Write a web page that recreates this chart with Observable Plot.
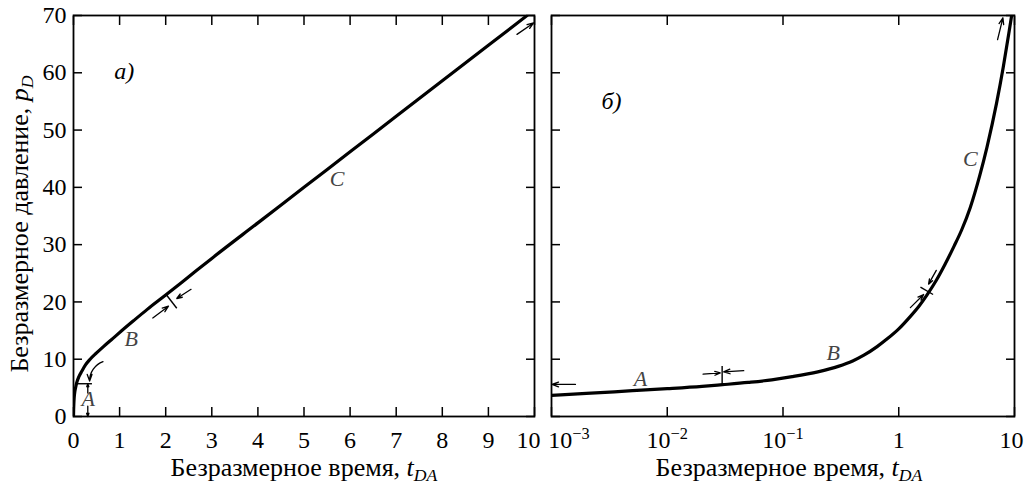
<!DOCTYPE html>
<html><head><meta charset="utf-8">
<script src="https://cdn.jsdelivr.net/npm/d3@7"></script>
<script src="https://cdn.jsdelivr.net/npm/@observablehq/plot@0.6"></script>
<style>
body{margin:0;background:#fff;}
#wrap{position:relative;width:1024px;height:486px;overflow:hidden;background:#fff;}
#wrap svg{position:absolute;top:0;}
</style></head><body><div id="wrap"></div>
<script>
// ---- data ----
// Panel а) linear time axis
const linT = [0, 0.003, 0.008, 0.015, 0.03, 0.05, 0.07, 0.12, 0.18, 0.26, 0.36, 0.5, 0.65, 0.85, 1.05, 1.3, 1.6, 2.0, 2.5, 3, 4, 5, 6, 7, 8, 9, 9.84];
const linP = [0, 1.2, 2.3, 3.3, 4.4, 5.2, 5.9, 7.0, 7.9, 9.0, 10.0, 11.1, 12.2, 13.6, 15.0, 16.7, 18.7, 21.2, 24.4, 27.6, 33.8, 40.0, 46.2, 52.4, 58.6, 64.8, 70];
// Panel б) logarithmic time axis
const logT = [0.001, 0.002, 0.005, 0.01, 0.02, 0.03, 0.05, 0.08, 0.12, 0.2, 0.3, 0.4, 0.5, 0.65, 0.8, 1.0, 1.25, 1.5, 1.75, 2.1, 2.5, 3.0, 3.5, 4.15, 5.0, 5.78, 7.0, 8.0, 9.0, 9.45];
const logP = [3.7, 4.03, 4.5, 4.85, 5.25, 5.55, 5.95, 6.4, 6.95, 7.8, 8.75, 9.7, 10.7, 12.2, 13.6, 15.3, 17.4, 19.3, 21.2, 23.7, 26.5, 29.7, 32.6, 36.5, 42.0, 47.0, 54.7, 61.0, 67.3, 70];

const yTicks = [0, 10, 20, 30, 40, 50, 60, 70];
const linTicks = [0, 1, 2, 3, 4, 5, 6, 7, 8, 9, 10];
const logTicks = [0.001, 0.01, 0.1, 1, 10];
const logTickLabels = ["10^−3", "10^−2", "10^−1", "1", "10"];

const xLabelMain = "Безразмерное время, ";
const xLabelVar = ["t", "DA"];
const yLabelMain = "Безразмерное давление, ";
const yLabelVar = ["p", "D"];

// annotations (data coordinates)
const leftTags = [{x: 1.1, y: 60.3, t: "а)"}];
const rightTags = [{x: 0.0033, y: 55.1, t: "б)"}];
const leftLetters = [{x: 0.32, y: 3.0, t: "A"}, {x: 1.25, y: 13.5, t: "B"}, {x: 5.72, y: 41.5, t: "C"}];
const rightLetters = [{x: 0.00587, y: 6.5, t: "A"}, {x: 0.272, y: 11.1, t: "B"}, {x: 4.15, y: 44.9, t: "C"}];
const leftArrows = [
  {x1: 0.31, y1: 4.1, x2: 0.31, y2: 5.7},
  {x1: 0.31, y1: 1.8, x2: 0.31, y2: 0},
  {x1: 1.72, y1: 17.2, x2: 2.06, y2: 19.25},
  {x1: 2.55, y1: 22.2, x2: 2.24, y2: 20.6},
  {x1: 9.62, y1: 66.7, x2: 9.98, y2: 68.7}
];
const leftCurvedArrow = [{x1: 0.64, y1: 9.57, x2: 0.35, y2: 6.2}];
const leftSegs = [
  {x1: 0.05, y1: 5.72, x2: 0.4, y2: 5.72},
  {x1: 2.01, y1: 21.3, x2: 2.24, y2: 18.9}
];
const rightArrows = [
  {x1: 0.00161, y1: 5.6, x2: 0.00101, y2: 5.6},
  {x1: 0.0204, y1: 7.4, x2: 0.0287, y2: 7.6},
  {x1: 0.0458, y1: 8.0, x2: 0.0307, y2: 7.8},
  {x1: 1.26, y1: 19.0, x2: 1.64, y2: 21.3},
  {x1: 2.11, y1: 25.5, x2: 1.81, y2: 23.1},
  {x1: 7.14, y1: 65.8, x2: 7.94, y2: 69.6}
];
const rightSegs = [
  {x1: 0.0298, y1: 5.7, x2: 0.0298, y2: 8.8},
  {x1: 1.54, y1: 22.6, x2: 1.98, y2: 21.3}
];

const linData = linT.map((t, i) => ({t, p: linP[i]}));
const logData = logT.map((t, i) => ({t, p: logP[i]}));

const FONT = "'Liberation Serif', 'Times New Roman', serif";
const style = `font-family: ${FONT}; font-size: 24px; color: black; background: transparent; overflow: visible;`;
const tickW = 1.5;
const arrowOpts = {x1: "x1", y1: "y1", x2: "x2", y2: "y2", stroke: "black", strokeWidth: 1.3, headLength: 8, headAngle: 40};
const letterOpts = {x: "x", y: "y", text: "t", fontStyle: "italic", fontSize: 22, fill: "#444", fontFamily: FONT};
const tagOpts = {x: "x", y: "y", text: "t", fontStyle: "italic", fontSize: 24, fill: "black", fontFamily: FONT};

const left = Plot.plot({
  width: 545, height: 486,
  marginLeft: 73, marginRight: 11, marginTop: 15, marginBottom: 70,
  x: {type: "linear", domain: [0, 10]},
  y: {domain: [0, 70]},
  style,
  marks: [
    Plot.axisX(linTicks, {anchor: "bottom", tickSize: -9, tickFormat: () => "", strokeWidth: tickW, label: null}),
    Plot.axisX(linTicks, {anchor: "top", tickSize: -9, tickFormat: () => "", strokeWidth: tickW, label: null}),
    Plot.axisY(yTicks, {anchor: "left", tickSize: -9, tickFormat: () => "", strokeWidth: tickW, label: null}),
    Plot.axisY(yTicks, {anchor: "right", tickSize: -9, tickFormat: () => "", strokeWidth: tickW, label: null}),
    Plot.axisX(linTicks, {anchor: "bottom", tickSize: 0, tickPadding: 14, tickFormat: d => String(d), fontSize: 24,
      label: xLabelMain + xLabelVar.join(""), labelAnchor: "center", labelOffset: 59, labelArrow: "none"}),
    Plot.axisY(yTicks, {anchor: "left", tickSize: 0, tickPadding: 7, tickFormat: d => String(d), fontSize: 24,
      label: yLabelMain + yLabelVar.join(""), labelAnchor: "center", labelOffset: 64, labelArrow: "none"}),
    Plot.frame({stroke: "black", strokeWidth: 1.8}),
    Plot.line(linData, {x: "t", y: "p", stroke: "black", strokeWidth: 3.2, curve: "monotone-x", clip: true}),
    Plot.link(leftSegs, {x1: "x1", y1: "y1", x2: "x2", y2: "y2", stroke: "black", strokeWidth: 1.4}),
    Plot.arrow(leftArrows, arrowOpts),
    Plot.arrow(leftCurvedArrow, {...arrowOpts, bend: -35}),
    Plot.text(leftLetters, letterOpts),
    Plot.text(leftTags, tagOpts)
  ]
});

const right = Plot.plot({
  width: 479, height: 486,
  marginLeft: 6, marginRight: 10, marginTop: 15, marginBottom: 70,
  x: {type: "log", domain: [0.001, 10]},
  y: {domain: [0, 70]},
  style,
  marks: [
    Plot.axisX(logTicks, {anchor: "bottom", tickSize: -9, tickFormat: () => "", strokeWidth: tickW, label: null}),
    Plot.axisX(logTicks, {anchor: "top", tickSize: -9, tickFormat: () => "", strokeWidth: tickW, label: null}),
    Plot.axisY(yTicks, {anchor: "left", tickSize: -9, tickFormat: () => "", strokeWidth: tickW, label: null}),
    Plot.axisY(yTicks, {anchor: "right", tickSize: -9, tickFormat: () => "", strokeWidth: tickW, label: null}),
    Plot.axisX(logTicks, {anchor: "bottom", tickSize: 0, tickPadding: 14, fontSize: 24, tickFormat: d => logTickLabels[logTicks.indexOf(d)],
      label: xLabelMain + xLabelVar.join(""), labelAnchor: "center", labelOffset: 59, labelArrow: "none"}),
    Plot.frame({stroke: "black", strokeWidth: 1.8}),
    Plot.line(logData, {x: "t", y: "p", stroke: "black", strokeWidth: 3.2, curve: "monotone-x", clip: true}),
    Plot.link(rightSegs, {x1: "x1", y1: "y1", x2: "x2", y2: "y2", stroke: "black", strokeWidth: 1.4}),
    Plot.arrow(rightArrows, arrowOpts),
    Plot.text(rightLetters, letterOpts),
    Plot.text(rightTags, tagOpts)
  ]
});

const NS = "http://www.w3.org/2000/svg";
function tspan(txt, attrs) {
  const s = document.createElementNS(NS, "tspan");
  for (const k in attrs) s.setAttribute(k, attrs[k]);
  s.textContent = txt;
  return s;
}
// drop the empty label groups produced by the tick-only axes
function dropEmptyTickLabels(svg) {
  svg.querySelectorAll('g[aria-label$="tick label"]').forEach(g => {
    const texts = [...g.querySelectorAll("text")];
    if (texts.every(t => t.textContent.trim() === "")) g.remove();
  });
}
function tickTexts(svg, axis) {
  return [...svg.querySelectorAll(`g[aria-label="${axis}-axis tick label"] text`)].filter(t => t.textContent.trim() !== "");
}
function richLabel(svg, sel, main, v, extra) {
  svg.querySelectorAll(sel).forEach(t => {
    t.textContent = main;
    t.setAttribute("font-size", "26");
    for (const k in (extra || {})) t.setAttribute(k, extra[k]);
    t.appendChild(tspan(v[0], {"font-style": "italic"}));
    t.appendChild(tspan(v[1], {"font-style": "italic", "font-size": "0.68em", "dy": "0.3em"}));
  });
}
function supify(svg) {
  tickTexts(svg, "x").forEach(t => {
    const m = t.textContent.match(/^10\^(.+)$/);
    if (m) {
      t.textContent = "10";
      t.appendChild(tspan(m[1], {"font-size": "0.68em", "dy": "-0.5em"}));
    }
  });
}
function shiftX(t, dx) {
  const tr = t.getAttribute("transform");
  const m = tr && tr.match(/translate\(\s*([-\d.e]+)[ ,]+([-\d.e]+)\s*\)/);
  if (m) {
    t.setAttribute("transform", `translate(${+m[1] + dx},${m[2]})` + tr.slice(m.index + m[0].length));
  } else {
    t.setAttribute("x", String((+t.getAttribute("x") || 0) + dx));
  }
}

dropEmptyTickLabels(left);
dropEmptyTickLabels(right);
richLabel(left, 'g[aria-label="x-axis label"] text', xLabelMain, xLabelVar);
richLabel(left, 'g[aria-label="y-axis label"] text', yLabelMain, yLabelVar, {dx: "-8"});
richLabel(right, 'g[aria-label="x-axis label"] text', xLabelMain, xLabelVar, {dx: "6"});
supify(right);

left.style.left = "0px";
right.style.left = "545px";
const wrap = document.getElementById("wrap");
wrap.appendChild(left);
wrap.appendChild(right);

// nudge neighbouring end labels apart / inside, as in the reference
{
  const lt = tickTexts(left, "x");
  if (lt.length) shiftX(lt[lt.length - 1], -6);
  const rt = tickTexts(right, "x");
  if (rt.length) {
    shiftX(rt[0], 17.5);
    shiftX(rt[rt.length - 1], -3);
  }
}
</script>
</body></html>
